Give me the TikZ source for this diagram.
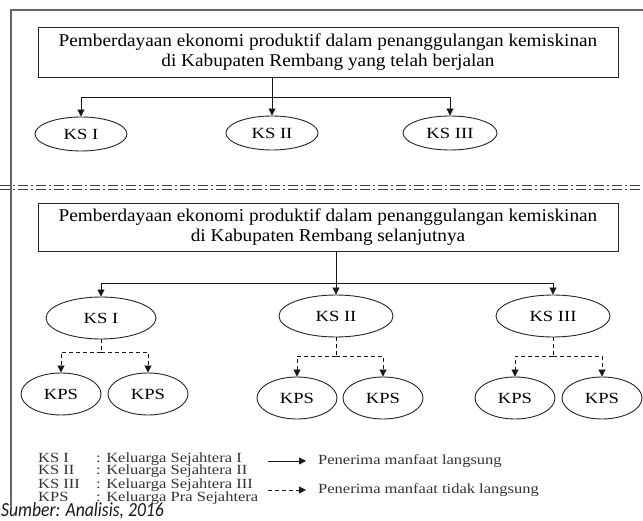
\documentclass[tikz,border=0pt]{standalone}
\usepackage{fontspec}
\setmainfont{Liberation Serif}
\newfontfamily\wideserif[FakeStretch=1.07]{Liberation Serif}
\newfontfamily\legserif[FakeStretch=1.2]{Liberation Serif}
\newfontfamily\legserifb[FakeStretch=1.18]{Liberation Serif}
\newfontfamily\srcfont[FakeStretch=0.88]{Carlito}
\usetikzlibrary{arrows.meta,shapes.geometric}
\begin{document}
\begin{tikzpicture}[x=1pt,y=-1pt,
  titlebox/.style={draw=black!85, line width=0.9pt, minimum width=580pt, minimum height=50pt, align=center, font=\wideserif\fontsize{18}{19.5}\selectfont, inner sep=0pt},
  ksoval/.style={ellipse, draw=black!85, line width=0.9pt, inner sep=0pt, font=\legserif\fontsize{15.5}{17}\selectfont},
  kpsoval/.style={ellipse, draw=black!85, line width=0.9pt, inner sep=0pt, minimum width=80pt, minimum height=42pt, font=\legserif\fontsize{15.5}{17}\selectfont},
  arr/.style={-{Triangle[length=7pt,width=7pt]}, line width=0.9pt, draw=black!90},
  darr/.style={arr, dash pattern=on 4pt off 3pt},
  legtext/.style={anchor=base west, inner sep=0pt, font=\legserifb\fontsize{14}{15}\selectfont, text=black!80},
  sep/.style={line width=0.8pt, draw=black!75, dash pattern=on 10pt off 3pt on 2pt off 3pt}
]
\useasboundingbox (0,0) rectangle (643,521);
\fill[white] (0,0) rectangle (643,521);

% outer frame
\draw[line width=1.6pt, draw=black!60] (11,506) -- (11,10) -- (643,10);

% upper part
\node[titlebox] (t1) at (328,52) {Pemberdayaan ekonomi produktif dalam penanggulangan kemiskinan\\di Kabupaten Rembang yang telah berjalan};
\node[ksoval, minimum width=92pt, minimum height=34pt] (a1) at (81,134) {KS I};
\node[ksoval, minimum width=92pt, minimum height=34pt] (a2) at (272,133) {KS II};
\node[ksoval, minimum width=94pt, minimum height=34pt] (a3) at (450,133) {KS III};
\coordinate (j1) at (272,97);
\draw[arr] (t1.south -| a2.north) -- (a2.north);
\draw[arr] (j1) -| (a1.north);
\draw[arr] (j1) -| (a3.north);

% separator
\draw[sep] (0,185) -- (643,185);
\draw[sep] (0,189) -- (643,189);

% lower part
\node[titlebox, minimum height=48pt] (t2) at (328,227) {Pemberdayaan ekonomi produktif dalam penanggulangan kemiskinan\\di Kabupaten Rembang selanjutnya};
\node[ksoval, minimum width=110pt, minimum height=42pt] (b1) at (101,318) {KS I};
\node[ksoval, minimum width=114pt, minimum height=42pt] (b2) at (336,316) {KS II};
\node[ksoval, minimum width=114pt, minimum height=42pt] (b3) at (553,316) {KS III};
\coordinate (j2) at (336,283);
\draw[arr] (t2.south -| b2.north) -- (b2.north);
\draw[arr] (j2) -| (b1.north);
\draw[arr] (j2) -| (b3.north);

\node[kpsoval] (p1) at (61,394) {KPS};
\node[kpsoval] (p2) at (148,394) {KPS};
\node[kpsoval] (p3) at (297,398) {KPS};
\node[kpsoval] (p4) at (383,398) {KPS};
\node[kpsoval] (p5) at (515,398) {KPS};
\node[kpsoval] (p6) at (602,398) {KPS};

\coordinate (d1) at (101,352);
\coordinate (d2) at (336,356);
\coordinate (d3) at (553,356);
\draw[dash pattern=on 4pt off 3pt, line width=0.9pt] (b1.south) -- (d1);
\draw[darr] (d1) -| (p1.north);
\draw[darr] (d1) -| (p2.north);
\draw[dash pattern=on 4pt off 3pt, line width=0.9pt] (b2.south) -- (d2);
\draw[darr] (d2) -| (p3.north);
\draw[darr] (d2) -| (p4.north);
\draw[dash pattern=on 4pt off 3pt, line width=0.9pt] (b3.south) -- (d3);
\draw[darr] (d3) -| (p5.north);
\draw[darr] (d3) -| (p6.north);

% legend
\node[legtext] (l1) at (38,462) {KS I};
\node[legtext] (l2) at (38,475) {KS II};
\node[legtext] (l3) at (38,488) {KS III};
\node[legtext] (l4) at (38,501) {KPS};
\node[legtext] (m1) at (96,462) {: Keluarga Sejahtera I};
\node[legtext] (m2) at (96,475) {: Keluarga Sejahtera II};
\node[legtext] (m3) at (96,488) {: Keluarga Sejahtera III};
\node[legtext] (m4) at (96,501) {: Keluarga Pra Sejahtera};

\coordinate (s1) at (268,461);
\coordinate (s2) at (306,461);
\draw[arr] (s1) -- (s2);
\node[legtext, anchor=west] (n1) at (318,461) {Penerima manfaat langsung};
\coordinate (s3) at (268,490);
\coordinate (s4) at (306,490);
\draw[darr] (s3) -- (s4);
\node[legtext, anchor=west] (n2) at (318,490) {Penerima manfaat tidak langsung};

% source
\node[anchor=base west, inner sep=0pt, font=\srcfont\itshape\fontsize{20}{21}\selectfont, text=black!90] (src) at (1,516) {Sumber: Analisis, 2016};
\end{tikzpicture}
\end{document}
